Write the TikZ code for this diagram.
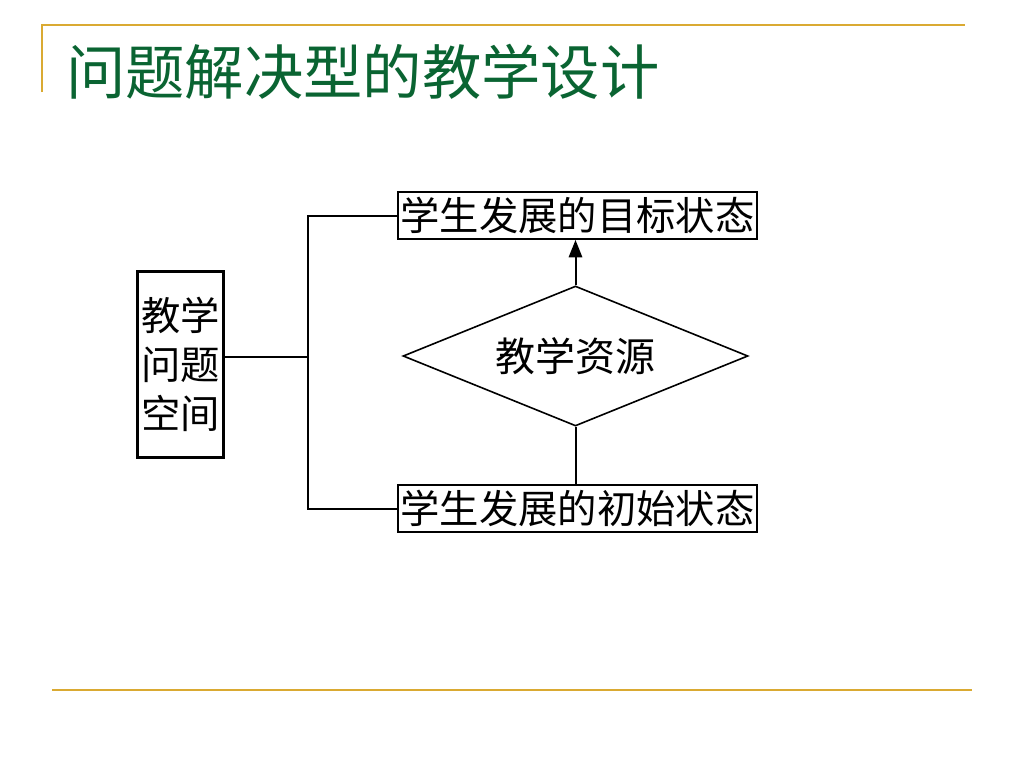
\documentclass[tikz,border=0pt]{standalone}
\usepackage{fontspec}
\setmainfont{Noto Sans CJK SC}
\usetikzlibrary{arrows.meta}
\usetikzlibrary{positioning}
\usetikzlibrary{shapes.geometric}
\definecolor{titlegreen}{RGB}{10,100,50}
\definecolor{rulegold}{RGB}{218,170,50}

\begin{document}
\begin{tikzpicture}[x=0.75pt, y=-0.75pt,
    statebox/.style={draw, line width=1.4pt, inner sep=0pt, minimum width=359*0.75pt, minimum height=47*0.75pt, font=\fontsize{29.5}{29.5}\selectfont},
    spacebox/.style={draw, line width=2pt, inner sep=0pt, minimum width=86*0.75pt, minimum height=186*0.75pt, align=center, font=\fontsize{29.5}{37}\selectfont},
    resource/.style={draw, diamond, line width=1.2pt, inner sep=0pt, minimum width=345*0.75pt, minimum height=140*0.75pt, aspect=2.46, font=\fontsize{30}{30}\selectfont},
    link/.style={line width=1.5pt}]
    \useasboundingbox (0, 0) rectangle (1024, 768);

    \draw [rulegold, line width=1.5pt] (42, 92) -- (42, 25) -- (965, 25);
    \draw [rulegold, line width=1.5pt] (52, 690) -- (972, 690);
    \node [anchor=west, text=titlegreen, inner sep=0pt, font=\fontsize{44.5}{44.5}\selectfont] (title) at (66, 72) {问题解决型的教学设计};

    \node [statebox] (goal) at (577.5, 215.5) {学生发展的目标状态};
    \node [statebox] (start) at (577.5, 508.5) {学生发展的初始状态};
    \node [spacebox] (space) at (180.5, 364.5) {教学\\问题\\空间};
    \node [resource] (res) at (575.5, 356) {教学资源};

    \coordinate (fork) at (308, 357);

    \draw [link] (fork -| space.east) -- (fork);
    \draw [link] (goal.west) -| (fork) |- (start.west);
    \draw [link, -{Triangle[length=13pt, width=10pt]}] (res.north) -- (res.north |- goal.south);
    \draw [link] (res.south) -- (res.south |- start.north);
  \end{tikzpicture}
\end{document}
